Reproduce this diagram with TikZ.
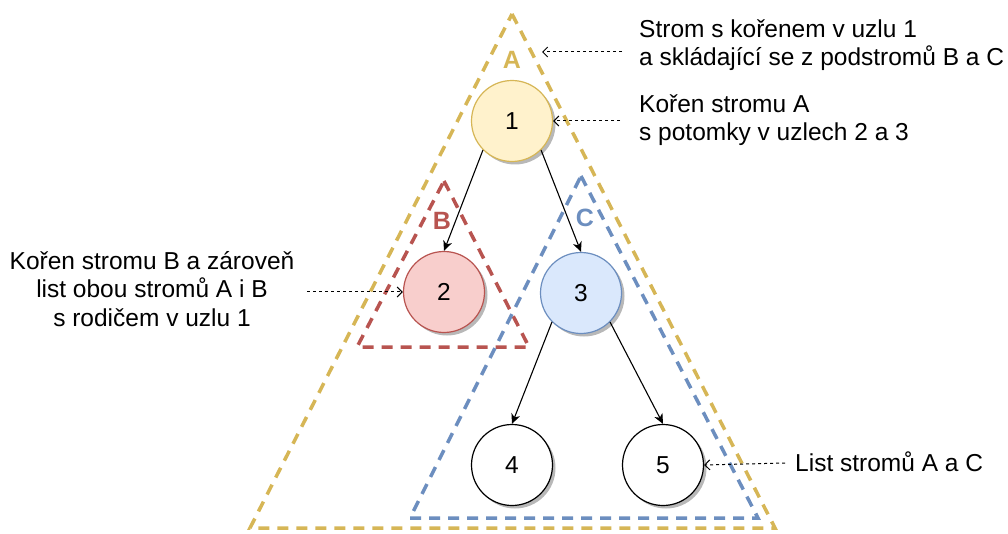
\documentclass[tikz,border=0pt]{standalone}
\usepackage{fontspec}
\setmainfont{Liberation Sans}
\usetikzlibrary{arrows.meta}
\definecolor{gold}{HTML}{D6B656}
\definecolor{goldfill}{HTML}{FFF2CC}
\definecolor{rose}{HTML}{B85450}
\definecolor{rosefill}{HTML}{F8CECC}
\definecolor{steel}{HTML}{6C8EBF}
\definecolor{steelfill}{HTML}{DAE8FC}
\begin{document}
\begin{tikzpicture}[x=1pt,y=-1pt,
  big/.style={font=\fontsize{24.5}{28.2}\selectfont},
  subtree/.style={line width=3.5pt, dash pattern=on 11pt off 8pt, line join=miter},
  treelabel/.style={font=\fontsize{25}{30}\selectfont\bfseries, inner sep=0pt},
  vtx/.style={circle, minimum size=81pt, inner sep=0pt, line width=1.2pt, big},
  shade/.style={fill=black!28},
  edge/.style={line width=1.1pt, -{Stealth[length=10pt,width=9pt,inset=3pt]}},
  note/.style={line width=1pt, dash pattern=on 3pt off 3pt,
    -{Straight Barb[length=5pt,width=10pt]}},
  txt/.style={big, inner sep=0pt}]
\useasboundingbox (0,0) rectangle (1008,534);

% dashed outlines of the subtrees
\draw[subtree, gold]  (512,14)  -- (775,528) -- (250,528) -- cycle;
\draw[subtree, rose]  (444,181) -- (529,347) -- (357,347) -- cycle;
\draw[subtree, steel] (581,176) -- (758,518) -- (410,518) -- cycle;
\node[treelabel, text=gold]  (lA) at (512,60)  {A};
\node[treelabel, text=rose]  (lB) at (442,221) {B};
\node[treelabel, text=steel] (lC) at (585,218) {C};

% soft shadows under the tree nodes
\fill[shade] (515,124) circle[radius=40.5];
\fill[shade] (447,295) circle[radius=40.5];
\fill[shade] (584,296) circle[radius=40.5];
\fill[shade] (515,468) circle[radius=40.5];
\fill[shade] (666,468) circle[radius=40.5];

% tree nodes
\node[vtx, draw=gold,  fill=goldfill]  (n1) at (512,121) {1};
\node[vtx, draw=rose,  fill=rosefill]  (n2) at (444,292) {2};
\node[vtx, draw=steel, fill=steelfill] (n3) at (581,293) {3};
\node[vtx, draw=black, fill=white]     (n4) at (512,465) {4};
\node[vtx, draw=black, fill=white]     (n5) at (663,465) {5};

% parent -> child edges
\draw[edge] (n1.225) -- (n2.north);
\draw[edge] (n1.315) -- (n3.north);
\draw[edge] (n3.225) -- (n4.north);
\draw[edge] (n3.315) -- (n5.north);

% annotations
\node[txt, anchor=west, align=left] (tA) at (639,45)
  {Strom s kořenem v uzlu 1\\a skládající se z podstromů B a C};
\node[txt, anchor=west, align=left] (t1) at (639,120)
  {Kořen stromu A\\s potomky v uzlech 2 a 3};
\node[txt, align=center] (t2) at (152,289)
  {Kořen stromu B a zároveň\\list obou stromů A i B\\s rodičem v uzlu 1};
\node[txt, anchor=base west] (t5) at (795,471) {List stromů A a C};

\coordinate (sA) at (622,52);
\coordinate (eA) at (542,52);
\coordinate (s1) at (620,121);
\coordinate (s2) at (307,292);
\coordinate (s5) at (785,463);
\draw[note] (sA) -- (eA);
\draw[note] (s1) -- (n1.east);
\draw[note] (s2) -- (n2.west);
\draw[note] (s5) -- (n5.east);
\end{tikzpicture}
\end{document}
